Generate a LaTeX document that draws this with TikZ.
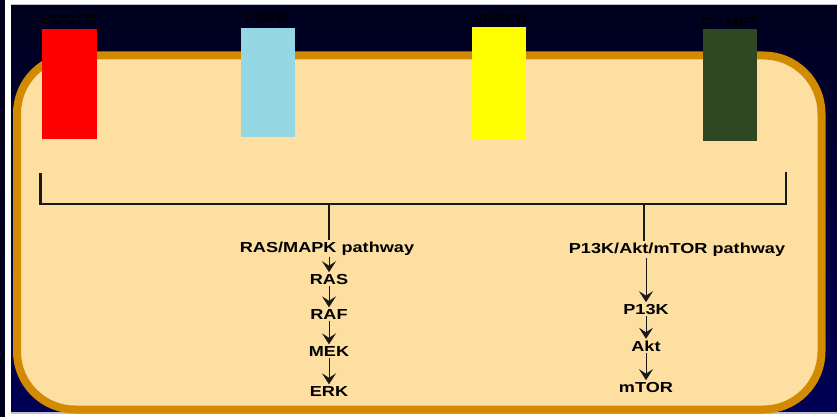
\documentclass[tikz,border=0pt]{standalone}
\usepackage{fontspec}
\newfontfamily\labfont{Liberation Sans}[FakeStretch=1.25]
\usetikzlibrary{arrows.meta}
\definecolor{navytop}{RGB}{0,0,30}
\definecolor{navybot}{RGB}{0,0,85}
\definecolor{framegray}{RGB}{190,190,205}
\definecolor{cellfill}{RGB}{253,223,161}
\definecolor{cellborder}{RGB}{210,138,0}
\definecolor{pdgfrcol}{RGB}{255,0,0}
\definecolor{fgfrcol}{RGB}{149,215,227}
\definecolor{vegfrcol}{RGB}{255,255,0}
\definecolor{cmetcol}{RGB}{48,72,34}
\begin{document}
\begin{tikzpicture}[x=1pt,y=-1pt,
  receptor/.style={draw=none, inner sep=0pt},
  rlabel/.style={font=\labfont\bfseries\fontsize{12.5}{14}\selectfont, text=black, anchor=base, inner sep=0pt},
  plabel/.style={font=\labfont\bfseries\fontsize{14.5}{16}\selectfont, text=black, anchor=base, inner sep=1.5pt},
  arr/.style={-{Stealth[length=11pt,width=14pt,inset=4.5pt]}, line width=0.9pt, draw=black!90},
  bracket/.style={line width=2.8pt, draw=black!90}
]
\useasboundingbox (0,0) rectangle (837,417);
% background and frame
\fill[white] (0,0) rectangle (837,417);
\fill[navytop] (0,0) rectangle (5,417);
\fill[framegray] (11,4.5) rectangle (837,6);
\shade[top color=navytop, bottom color=navybot] (11,6) rectangle (837,412);
\fill[framegray] (11,412) rectangle (837,414);
% cell
\draw[cellborder, line width=8pt, fill=cellfill, rounded corners=58pt] (17,55.5) rectangle (821.5,409.5);
% receptors
\node[receptor, fill=pdgfrcol, minimum width=55pt, minimum height=110pt] (pdgfr) at (69.5,84) {};
\node[receptor, fill=fgfrcol, minimum width=54pt, minimum height=109pt] (fgfr) at (268,82.5) {};
\node[receptor, fill=vegfrcol, minimum width=54pt, minimum height=113pt] (vegfr) at (499,83.5) {};
\node[receptor, fill=cmetcol, minimum width=54pt, minimum height=112pt] (cmet) at (730,85) {};
\node[rlabel] (pdgfrl) at (69.5,24) {PDGFR};
\node[rlabel] (fgfrl) at (267,23) {FGFR};
\node[rlabel] (vegfrl) at (500,23.5) {VEGFR};
\node[rlabel] (cmetl) at (730,27) {C - MET};
% bracket
\coordinate (bl) at (40.5,173);
\coordinate (br) at (786,172);
\coordinate (stemL) at (329,204);
\coordinate (stemR) at (644,204);
\draw[bracket] (bl) -- (bl |- stemL) -- (br |- stemL) -- (br);
% left pathway
\node[plabel] (mapk) at (327,252) {RAS/MAPK pathway};
\node[plabel] (ras) at (329,284) {RAS};
\node[plabel] (raf) at (329,319) {RAF};
\node[plabel] (mek) at (329,356) {MEK};
\node[plabel] (erk) at (329,396) {ERK};
\draw[bracket] (stemL) -- (stemL |- mapk.north);
\draw[arr] (mapk.south -| ras) -- (ras.north);
\draw[arr] (ras) -- (raf);
\draw[arr] (raf) -- (mek);
\draw[arr] (mek) -- (erk);
% right pathway
\node[plabel] (pi3path) at (677,253) {P13K/Akt/mTOR pathway};
\node[plabel] (pi3k) at (646,314) {P13K};
\node[plabel] (akt) at (646,351) {Akt};
\node[plabel] (mtor) at (646,392) {mTOR};
\draw[bracket] (stemR) -- (stemR |- pi3path.north);
\draw[arr] (pi3path.south -| pi3k) -- (pi3k.north);
\draw[arr] (pi3k) -- (akt);
\draw[arr] (akt) -- (mtor);
\end{tikzpicture}
\end{document}
